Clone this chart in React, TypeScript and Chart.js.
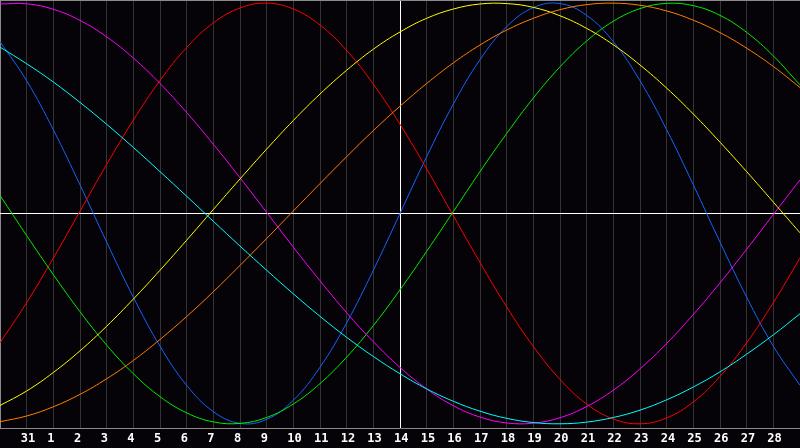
import React, { useEffect, useRef } from "react";
import { Chart, registerables } from "chart.js";

Chart.register(...registerables);

// day labels, one per grid column (first and last sit on the frame edges)
const days = [
	"30", "31", "1", "2", "3", "4", "5", "6", "7", "8", "9", "10", "11", "12", "13", "14",
	"15", "16", "17", "18", "19", "20", "21", "22", "23", "24", "25", "26", "27", "28", "29",
];

const physical = [
	0.817, 0.631, 0.398, 0.136, -0.136, -0.398, -0.631, -0.817, -0.942, -0.998, -0.979,
	-0.888, -0.731, -0.52, -0.27, 0, 0.27, 0.52, 0.731, 0.888, 0.979, 0.998, 0.942, 0.817,
	0.631, 0.398, 0.136, -0.136, -0.398, -0.631, -0.817,
];
const emotional = [
	-0.615, -0.424, -0.212, 0.011, 0.233, 0.444, 0.632, 0.789, 0.906, 0.977, 1.0, 0.972,
	0.896, 0.775, 0.615, 0.424, 0.212, -0.011, -0.233, -0.444, -0.632, -0.789, -0.906,
	-0.977, -1.0, -0.972, -0.896, -0.775, -0.615, -0.424, -0.212,
];
const intellectual = [
	0.086, -0.105, -0.291, -0.467, -0.626, -0.762, -0.871, -0.948, -0.991, -0.998, -0.97,
	-0.906, -0.809, -0.683, -0.533, -0.363, -0.18, 0.009, 0.199, 0.38, 0.549, 0.697, 0.82,
	0.914, 0.974, 0.999, 0.988, 0.942, 0.861, 0.749, 0.611,
];
const intuitive = [
	0.996, 0.997, 0.971, 0.918, 0.84, 0.739, 0.618, 0.48, 0.329, 0.17, 0.005, -0.16, -0.32,
	-0.472, -0.61, -0.732, -0.834, -0.914, -0.968, -0.996, -0.997, -0.971, -0.918, -0.84,
	-0.739, -0.618, -0.48, -0.33, -0.17, -0.005, 0.16,
];
const aesthetic = [
	-0.913, -0.844, -0.756, -0.653, -0.536, -0.407, -0.27, -0.127, 0.019, 0.164, 0.306,
	0.442, 0.568, 0.681, 0.781, 0.863, 0.928, 0.972, 0.996, 0.998, 0.98, 0.94, 0.88, 0.802,
	0.706, 0.596, 0.473, 0.339, 0.199, 0.054, -0.092,
];
const awareness = [
	-0.99, -0.963, -0.919, -0.86, -0.786, -0.699, -0.599, -0.49, -0.372, -0.247, -0.119,
	0.012, 0.142, 0.27, 0.394, 0.51, 0.618, 0.716, 0.801, 0.872, 0.928, 0.969, 0.993, 1.0,
	0.99, 0.963, 0.919, 0.86, 0.786, 0.699, 0.599,
];
const spiritual = [
	0.791, 0.712, 0.625, 0.528, 0.424, 0.314, 0.199, 0.082, -0.037, -0.155, -0.27, -0.382,
	-0.489, -0.589, -0.68, -0.762, -0.834, -0.893, -0.94, -0.974, -0.994, -1.0, -0.992,
	-0.97, -0.935, -0.886, -0.825, -0.753, -0.669, -0.577, -0.477,
];

const todayIndex = 15;
const BG = "#050307";

// top frame line (chart.js has no top border of its own)
const framePlugin = {
	id: "frame",
	afterDraw(chart: Chart) {
		const { ctx, chartArea } = chart;
		ctx.save();
		ctx.strokeStyle = "#8a8a8a";
		ctx.lineWidth = 1;
		ctx.beginPath();
		ctx.moveTo(chartArea.left, chartArea.top + 0.5);
		ctx.lineTo(chartArea.right, chartArea.top + 0.5);
		ctx.stroke();
		ctx.restore();
	},
};

const App: React.FC = () => {
	const chartRef = useRef<HTMLCanvasElement>(null);
	const chartInstance = useRef<Chart | null>(null);

	useEffect(() => {
		document.body.style.margin = "0";
		document.body.style.background = BG;
		if (!chartRef.current) return;
		if (chartInstance.current) chartInstance.current.destroy();

		const line = (data: number[], color: string) => ({
			data,
			borderColor: color,
			borderWidth: 1,
			pointRadius: 0,
			pointHoverRadius: 0,
			tension: 0.4,
			fill: false,
		});

		chartInstance.current = new Chart(chartRef.current, {
			type: "line",
			data: {
				labels: days,
				datasets: [
					line(spiritual, "#00ffff"),
					line(awareness, "#ff7f00"),
					line(aesthetic, "#ffff00"),
					line(intuitive, "#ff00ff"),
					line(intellectual, "#00ee00"),
					line(emotional, "#ff0000"),
					line(physical, "#1464ff"),
				],
			},
			options: {
				responsive: false,
				animation: false,
				layout: { padding: 0, autoPadding: false },
				plugins: {
					legend: { display: false },
					tooltip: { enabled: false },
				},
				scales: {
					x: {
						type: "category",
						offset: false,
						afterFit: (s: any) => {
							s.height = 20;
							s.paddingLeft = 0;
							s.paddingRight = 0;
						},
						border: { display: true, color: "#8a8a8a", width: 1 },
						grid: {
							drawTicks: false,
							lineWidth: 1,
							color: (c: any) =>
								c.index === 0
									? "#8a8a8a"
									: c.index === todayIndex
									? "#ffffff"
									: c.index === days.length - 1
									? "rgba(0,0,0,0)"
									: "#333333",
						},
						ticks: {
							autoSkip: false,
							maxRotation: 0,
							padding: 4,
							align: "start",
							labelOffset: -6,
							color: "#ffffff",
							font: { family: "DejaVu Sans Mono", size: 12, weight: "bold" },
							callback: (_v: any, i: number) =>
								i === 0 || i === days.length - 1 ? "" : days[i],
						},
					},
					y: {
						min: -1.02,
						max: 1.015,
						afterFit: (s: any) => {
							s.width = 0;
						},
						border: { display: false },
						grid: {
							drawTicks: false,
							color: (c: any) => (c.tick.value === 0 ? "#ffffff" : "rgba(0,0,0,0)"),
						},
						ticks: { display: false, stepSize: 1 },
					},
				},
			},
			plugins: [framePlugin],
		});

		return () => {
			if (chartInstance.current) {
				chartInstance.current.destroy();
				chartInstance.current = null;
			}
		};
	}, []);

	return (
		<div style={{ position: "absolute", left: 0, top: 0, width: 800, height: 448, background: BG }}>
			<canvas ref={chartRef} width={800} height={448}></canvas>
		</div>
	);
};

export default App;
